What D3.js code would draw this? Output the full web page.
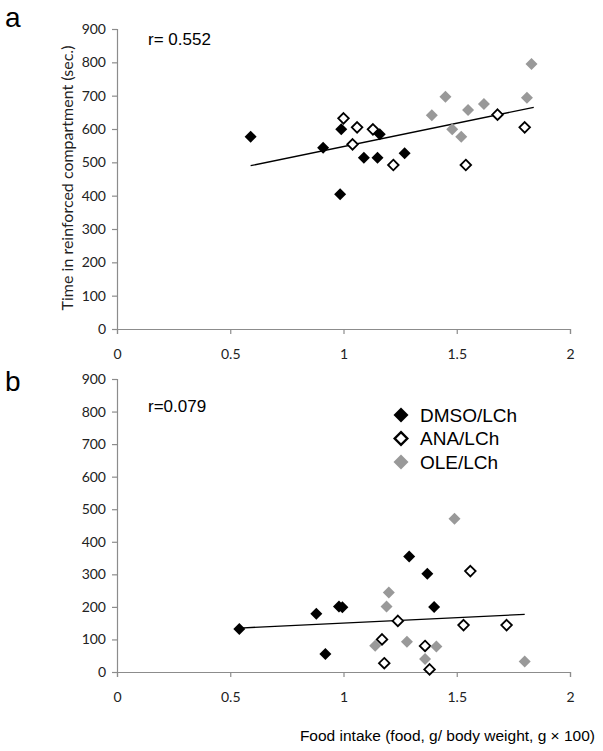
<!DOCTYPE html>
<html><head><meta charset="utf-8">
<script src="https://cdn.jsdelivr.net/npm/d3@7"></script>
<style>body{margin:0;background:#fff}svg{display:block}</style>
</head><body>
<svg id="c" width="603" height="751"></svg>
<script>
// ---- data ----
const xTicks = [0, 0.5, 1, 1.5, 2];
const yTicks = [0, 100, 200, 300, 400, 500, 600, 700, 800, 900];
const seriesNames = ["DMSO/LCh", "ANA/LCh", "OLE/LCh"];

const aDMSOx = [0.59, 0.91, 0.99, 0.985, 1.09, 1.15, 1.16, 1.27];
const aDMSOy = [577, 544, 599, 404, 514, 514, 584, 527];
const aANAx  = [1.00, 1.04, 1.06, 1.13, 1.22, 1.54, 1.68, 1.80];
const aANAy  = [632, 554, 605, 599, 492, 492, 643, 605];
const aOLEx  = [1.39, 1.45, 1.48, 1.52, 1.55, 1.62, 1.81, 1.83];
const aOLEy  = [641, 697, 599, 577, 657, 675, 694, 795];
const aTrendX = [0.59, 1.84];
const aTrendY = [490, 665];
const aR = "r= 0.552";

const bDMSOx = [0.54, 0.88, 0.92, 0.98, 0.995, 1.29, 1.37, 1.40];
const bDMSOy = [132, 179, 55, 201, 199, 355, 302, 200];
const bANAx  = [1.17, 1.18, 1.24, 1.36, 1.38, 1.53, 1.56, 1.72];
const bANAy  = [100, 27, 157, 80, 8, 144, 310, 144];
const bOLEx  = [1.14, 1.19, 1.20, 1.28, 1.36, 1.41, 1.49, 1.80];
const bOLEy  = [81, 201, 244, 93, 40, 78, 471, 32];
const bTrendX = [0.54, 1.80];
const bTrendY = [135, 177];
const bR = "r=0.079";

const yTitle = "Time in reinforced compartment (sec.)";
const xTitle = "Food intake (food, g/ body weight, g \u00d7 100)";

// ---- drawing ----
const svg = d3.select("#c");
const styles = [
  {fill: "#000", stroke: "none", sw: 0},
  {fill: "#fff", stroke: "#000", sw: 1.8},
  {fill: "#999", stroke: "none", sw: 0}
];
const diamond = r => `M0,${-r}L${r},0L0,${r}L${-r},0Z`;
const tickFont = "Lato, 'Open Sans', sans-serif";
const arial = "'Liberation Sans', Arial, sans-serif";

function panel(top, bottom, series, trendX, trendY, rText, rLevel, letter, letterY) {
  const x = d3.scaleLinear().domain([0, 2]).range([117, 570]);
  const y = d3.scaleLinear().domain([0, 900]).range([bottom, top]);
  const g = svg.append("g");

  const xa = g.append("g").attr("transform", `translate(0,${bottom})`)
    .call(d3.axisBottom(x).tickValues(xTicks).tickFormat(d3.format("")).tickSize(5).tickPadding(15));
  const ya = g.append("g").attr("transform", `translate(117,0)`)
    .call(d3.axisLeft(y).tickValues(yTicks).tickSize(5).tickPadding(6));
  [xa, ya].forEach(a => {
    a.selectAll("path,line").attr("stroke", "#8c8c8c").attr("stroke-width", 1.2);
    a.selectAll("text").attr("font-family", tickFont).attr("font-size", 14).attr("fill", "#222");
  });

  g.append("line")
    .attr("x1", x(trendX[0])).attr("y1", y(trendY[0]))
    .attr("x2", x(trendX[1])).attr("y2", y(trendY[1]))
    .attr("stroke", "#000").attr("stroke-width", 1.3);

  series.forEach((s, i) => {
    g.append("g").selectAll("path").data(s.x.map((v, j) => [v, s.y[j]])).join("path")
      .attr("transform", d => `translate(${x(d[0])},${y(d[1])})`)
      .attr("d", diamond(i === 1 ? 5.3 : 6))
      .attr("fill", styles[i].fill).attr("stroke", styles[i].stroke)
      .attr("stroke-width", styles[i].sw);
  });

  g.append("text").attr("x", 148).attr("y", y(rLevel)).attr("dy", "0.35em")
    .attr("font-family", arial).attr("font-size", 17)
    .text(rText);
  svg.append("text").attr("x", 5).attr("y", letterY)
    .attr("font-family", arial).attr("font-size", 28)
    .text(letter);
  return {x, y};
}

panel(29, 329, [
  {x: aDMSOx, y: aDMSOy}, {x: aANAx, y: aANAy}, {x: aOLEx, y: aOLEy}
], aTrendX, aTrendY, aR, 870, "a", 27);

panel(379, 672, [
  {x: bDMSOx, y: bDMSOy}, {x: bANAx, y: bANAy}, {x: bOLEx, y: bOLEy}
], bTrendX, bTrendY, bR, 818, "b", 391);

// legend
const leg = svg.append("g");
seriesNames.forEach((n, i) => {
  const ly = 415 + i * 23.5;
  leg.append("path").attr("transform", `translate(401,${ly})`)
    .attr("d", diamond(i === 1 ? 6.3 : 7.5))
    .attr("fill", styles[i].fill).attr("stroke", styles[i].stroke).attr("stroke-width", i === 1 ? 2.4 : 0);
  leg.append("text").attr("x", 420).attr("y", ly).attr("dy", "0.36em")
    .attr("font-family", arial).attr("font-size", 19)
    .text(n);
});

// axis titles
svg.append("text").attr("transform", "translate(73,178) rotate(-90)")
  .attr("text-anchor", "middle").attr("font-family", tickFont).attr("font-size", 16)
  .attr("fill", "#222").text(yTitle);
svg.append("text").attr("x", 595).attr("y", 741).attr("text-anchor", "end")
  .attr("font-family", arial).attr("font-size", 15.5)
  .text(xTitle);
</script>
</body></html>
